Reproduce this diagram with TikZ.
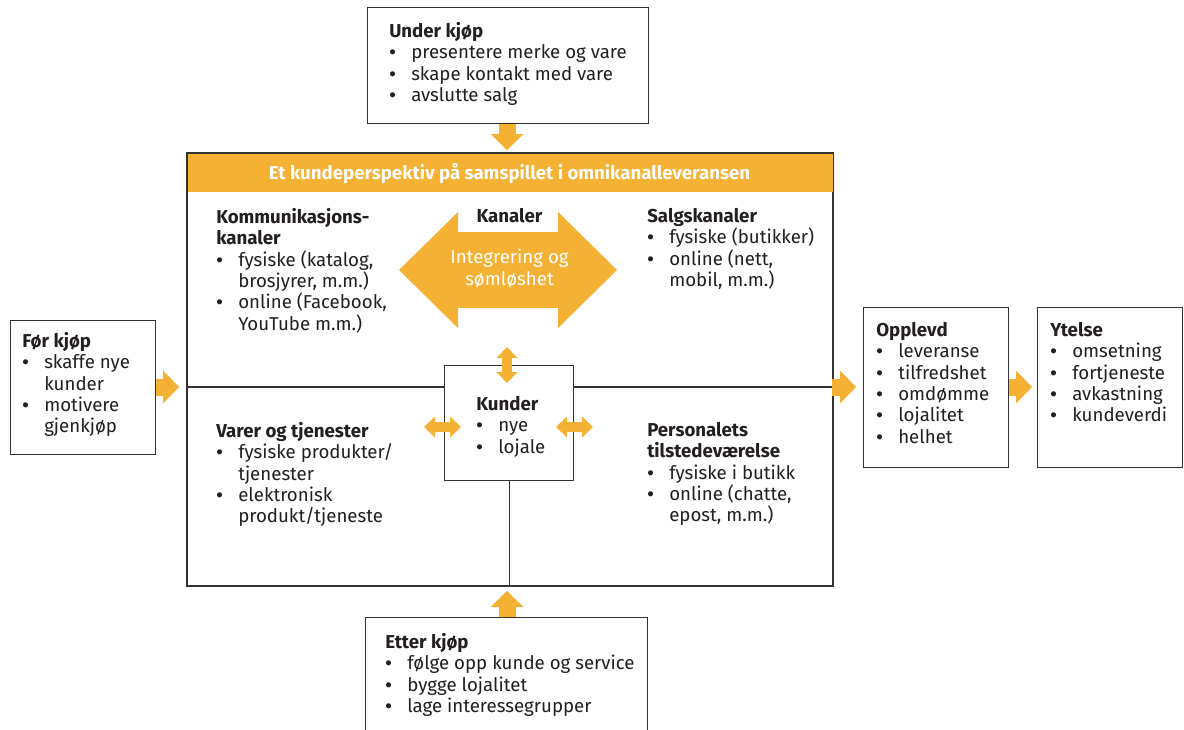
\documentclass[tikz,border=0pt]{standalone}
\usepackage{fontspec}
\setmainfont{Fira Sans}
\newfontfamily\bulfont{Liberation Sans}
\usetikzlibrary{arrows.meta,positioning,calc}
\definecolor{Ink}{HTML}{231F20}
\definecolor{Frame}{HTML}{333333}
\definecolor{Accent}{HTML}{F5B133}
\newcommand{\bitem}{\makebox[16.5pt][l]{{\bulfont\textbullet}}}
\newcommand{\bcont}{\hspace*{16.5pt}}

\begin{document}
\begin{tikzpicture}[x=0.75pt,y=-0.75pt,
  box/.style={draw=Frame,line width=1.1pt,fill=white,inner sep=0pt,anchor=north west},
  boxsize/.style 2 args={minimum width=#1*0.75pt,minimum height=#2*0.75pt},
  txt/.style={anchor=north west,inner sep=0pt,align=left,text=Ink,font=\fontsize{14}{16}\selectfont,execute at begin node=\strut},
  fat/.style={Accent,line width=12.75pt,-{Triangle[width=24.75pt,length=12pt,line width=0pt]}},
  twoway/.style={Accent,line width=7.5pt,{Triangle[width=15.75pt,length=8.25pt,line width=0pt]}-{Triangle[width=15.75pt,length=8.25pt,line width=0pt]}}]
\useasboundingbox (0,0) rectangle (1184,729);
\clip (0,0) rectangle (1184,729);
% boxes
\node[box,boxsize={281}{116}] (uk) at (367,7) {};
\node[box,boxsize={145}{134}] (fk) at (10,320) {};
\node[box,boxsize={645}{432}] (frame) at (187,153) {};
\node[box,boxsize={645}{38},fill=Accent,draw=none] (head) at (187,153) {};
\draw[Frame,line width=1.1pt] (frame.north west) rectangle (frame.south east);
\node[box,boxsize={145}{160}] (op) at (863,307) {};
\node[box,boxsize={145}{160}] (yt) at (1037,307) {};
\node[box,boxsize={282}{130}] (ek) at (365,617) {};
% inner lines and customer box
\coordinate (hl) at (187,387);
\coordinate (hr) at (832,387);
\node[box,boxsize={129}{115}] (ku) at (444,365) {};
\draw[Frame,line width=1.1pt] (hl) -- (hl -| ku.west);
\draw[Frame,line width=1.1pt] (hr -| ku.east) -- (hr);
\draw[Frame,line width=1.1pt] (ku.south) -- (ku.south |- frame.south);
% fat arrows
\draw[fat] (uk.south -| 507,0) -- (507,150);
\draw[fat] (fk.east |- hl) -- (179,387);
\draw[fat] (hr) -- (856,387);
\draw[fat] (op.east |- hl) -- (1032,387);
\draw[fat] (ek.north -| 507,0) -- (507,591);
% two-way arrows round the customer box
\draw[twoway] (507,347) -- (507,383);
\draw[twoway] (424,427) -- (461,427);
\draw[twoway] (556,427) -- (593,427);
\coordinate (kl) at (399,270);
\coordinate (kr) at (617,270);
\draw[Accent,line width=57pt,{Triangle[width=87pt,length=44.25pt,line width=0pt]}-{Triangle[width=87pt,length=44.25pt,line width=0pt]}] (kl) -- (kr);
% texts (top = baseline - 15)
\node[txt,anchor=north,text=white] (headt) at (509.5,163) {\textbf{Et kundeperspektiv på samspillet i omnikanalleveransen}};
\node[txt,anchor=north] (kan) at (509.5,207) {\textbf{Kanaler}};
\node[txt,anchor=north,align=center,text=white] (integ) at (509.5,249) {Integrering og\\sømløshet};
\node[txt] (ukt) at (389,22) {\textbf{Under kjøp}\\\bitem presentere merke og vare\\\bitem skape kontakt med vare\\\bitem avslutte salg};
\node[txt] (fkt) at (22,332) {\textbf{Før kjøp}\\\bitem skaffe nye\\\bcont kunder\\\bitem motivere\\\bcont gjenkjøp};
\node[txt] (komt) at (216,208) {\textbf{Kommunikasjons-}\\\textbf{kanaler}\\\bitem fysiske (katalog,\\\bcont brosjyrer, m.m.)\\\bitem online (Facebook,\\\bcont YouTube m.m.)};
\node[txt] (salt) at (647,208) {\textbf{Salgskanaler}\\\bitem fysiske (butikker)\\\bitem online (nett,\\\bcont mobil, m.m.)};
\node[txt] (vart) at (216,422) {\textbf{Varer og tjenester}\\\bitem fysiske produkter/\\\bcont tjenester\\\bitem elektronisk\\\bcont produkt/tjeneste};
\node[txt] (pert) at (647,422) {\textbf{Personalets}\\\textbf{tilstedeværelse}\\\bitem fysiske i butikk\\\bitem online (chatte,\\\bcont epost, m.m.)};
\node[txt] (kut) at (476,396) {\textbf{Kunder}\\\bitem nye\\\bitem lojale};
\node[txt] (opt) at (876,322) {\textbf{Opplevd}\\\bitem leveranse\\\bitem tilfredshet\\\bitem omdømme\\\bitem lojalitet\\\bitem helhet};
\node[txt] (ytt) at (1050,322) {\textbf{Ytelse}\\\bitem omsetning\\\bitem fortjeneste\\\bitem avkastning\\\bitem kundeverdi};
\node[txt] (ekt) at (385,633) {\textbf{Etter kjøp}\\\bitem følge opp kunde og service\\\bitem bygge lojalitet\\\bitem lage interessegrupper};
\end{tikzpicture}
\end{document}
